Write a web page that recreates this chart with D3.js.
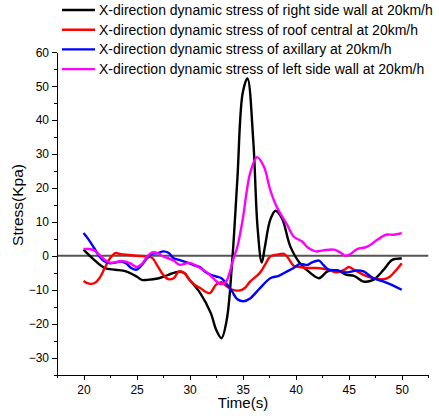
<!DOCTYPE html>
<html lang="en">
<head>
    <meta charset="UTF-8">
    <title>X-direction dynamic stress at 20km/h</title>
    <script src="https://cdn.jsdelivr.net/npm/d3@7"></script>
    <style>
        body { margin: 0; background: #fff; }
        svg { font-family: "Liberation Sans", Arial, sans-serif; }
        .axis path, .axis line { stroke: #000; stroke-width: 1px; shape-rendering: crispEdges; }
        .axis text { font-size: 12px; fill: #000; }
        .series { fill: none; stroke-width: 2.4px; stroke-linejoin: round; }
    </style>
</head>
<body>
    <svg id="chart" width="439" height="419"></svg>

    <script>
        // series names and colours
        const seriesNames = [
            "X-direction dynamic stress of right side wall at 20km/h",
            "X-direction dynamic stress of roof central at 20km/h",
            "X-direction dynamic stress of axillary at 20km/h",
            "X-direction dynamic stress of left side wall at 20km/h"
        ];
        const seriesColors = ["#000000", "#ff0000", "#0000ff", "#ff00ff"];

        // right side wall (black)
        const rightTime = [20, 21, 22, 23, 24, 25, 25.5, 26, 27, 28, 29, 29.5, 30, 31, 32, 32.5, 33, 33.5, 34, 34.5, 35, 35.45, 36, 36.4, 36.8, 37.1, 37.6, 38.1, 38.7, 39.5, 40.4, 41.4, 42.2, 43, 43.9, 44.8, 45.5, 46.4, 47.3, 48.3, 49.1, 50];
        const rightStress = [1.8, -1.2, -3.6, -4.1, -4.6, -6.1, -7.1, -7.1, -6.7, -5.6, -4.7, -5.1, -7.1, -11, -16.9, -21.8, -24.3, -18.9, -2.2, 22.5, 47.9, 52.3, 34, 8.6, -2, 2.7, 10.6, 13.3, 11.1, 2.7, -2.2, -5.1, -6.6, -4.6, -4.3, -5.6, -5.9, -7.6, -7.1, -4.1, -1.2, -0.8];

        // roof central (red)
        const roofTime = [20, 20.5, 21, 21.5, 22, 22.5, 23, 23.5, 24, 25, 26, 26.5, 27, 27.5, 28, 28.5, 29, 29.5, 30, 30.5, 31, 31.5, 31.9, 32.5, 33, 33.5, 34, 34.75, 35.2, 35.7, 36.6, 37.1, 37.6, 38.2, 38.9, 39.3, 39.8, 40.4, 41.1, 42, 43, 43.9, 44.6, 45, 45.5, 46.4, 47.3, 48.3, 48.9, 49.5, 50];
        const roofStress = [-7.4, -8.2, -8.1, -6.6, -3.6, -0.7, 0.8, 0.5, 0.3, 0, -0.2, -0.7, -3.1, -5.6, -6.9, -6.6, -4.6, -5.1, -7.1, -8.6, -9.5, -10.6, -11, -8.5, -7.8, -9, -10, -10.2, -9.5, -7.6, -5.1, -2.7, -0.2, 0.3, 0.6, -0.7, -2.9, -3.3, -3.6, -3.6, -4.1, -4.9, -4.1, -3.3, -4.1, -5.6, -6.6, -6.9, -6.1, -4.1, -2.2];

        // axillary (blue)
        const axillaryTime = [20, 20.5, 21, 21.5, 22, 22.5, 23, 23.5, 24, 24.5, 25, 25.5, 26, 26.5, 27, 27.5, 28, 28.5, 29, 29.5, 30, 30.5, 31, 31.5, 32, 32.5, 33, 33.5, 34, 34.5, 35.1, 35.7, 36.35, 36.8, 37.6, 38.4, 39.2, 39.8, 40.4, 41.1, 41.5, 42.2, 42.6, 43.1, 43.9, 44.8, 45.8, 46.4, 47.3, 48.3, 49.2, 50];
        const axillaryStress = [6.7, 4.7, 2.3, -0.2, -1.7, -2.2, -2, -1.7, -2.2, -3.6, -4.1, -2.7, -0.7, 0.6, 0.8, 1.3, 0.9, -0.7, -1.2, -1.7, -2.2, -2.9, -3.4, -4.8, -5.6, -6.1, -6.6, -8.3, -10.5, -12.8, -13.4, -12.6, -10.5, -9, -6.6, -5.9, -4.6, -3.6, -2.4, -2.7, -2, -1.4, -2.7, -4.1, -4.3, -4.9, -4.3, -4.6, -6.6, -7.6, -8.8, -10];

        // left side wall (magenta)
        const leftTime = [20, 20.5, 21, 21.5, 22, 22.5, 23, 23.5, 24, 24.5, 25, 25.5, 26, 26.5, 27, 27.5, 28, 28.5, 29, 29.5, 30, 30.5, 31, 31.5, 32, 32.5, 32.9, 33.4, 33.8, 34.15, 34.5, 35, 35.7, 36.35, 37, 37.6, 38.2, 39.2, 39.8, 40.6, 41.2, 41.9, 42.6, 43.6, 44.2, 44.7, 45.2, 45.8, 46.7, 47.7, 48.5, 49.2, 50];
        const leftStress = [2, 2, 1.6, 0.3, -1.2, -2, -1.9, -1.6, -1.7, -2.4, -3.3, -2.4, -0.2, 1, 0.8, -0.2, -0.7, -1.4, -2.6, -2.4, -2.1, -2.7, -3.6, -4.6, -5.9, -7.5, -8.3, -7.8, -4.7, -0.7, 2.6, 10.6, 24.3, 29.1, 26.3, 19.4, 14.5, 9.1, 5.7, 4.2, 2.3, 1.3, 1.6, 1.8, 1, 0, 0.6, 2, 2.6, 4.7, 6.2, 6.2, 6.7];

        const timeSeries = [rightTime, roofTime, axillaryTime, leftTime];
        const stressSeries = [rightStress, roofStress, axillaryStress, leftStress];

        // ticks
        const xMajorTicks = [20, 25, 30, 35, 40, 45, 50];
        const xMinorTicks = [17.5, 22.5, 27.5, 32.5, 37.5, 42.5, 47.5, 52.5];
        const yMajorTicks = [-30, -20, -10, 0, 10, 20, 30, 40, 50, 60];
        const yMinorTicks = [-35, -25, -15, -5, 5, 15, 25, 35, 45, 55];

        const svg = d3.select("#chart");

        const x = d3.scaleLinear().domain([17.5, 52.5]).range([57, 428.3]);
        const y = d3.scaleLinear().domain([-35, 60]).range([374.5, 52.3]);

        // zero line
        svg.append("line")
            .attr("x1", x(17.5)).attr("x2", x(52.5))
            .attr("y1", y(0)).attr("y2", y(0))
            .attr("stroke", "#555")
            .attr("stroke-width", 2);

        // x axis
        svg.append("g")
            .attr("class", "axis")
            .attr("transform", `translate(0,${y(-35)})`)
            .call(d3.axisBottom(x).tickValues(xMajorTicks).tickSize(5).tickSizeOuter(0).tickPadding(6));
        svg.append("g")
            .attr("class", "axis")
            .attr("transform", `translate(0,${y(-35)})`)
            .call(d3.axisBottom(x).tickValues(xMinorTicks).tickSize(3).tickFormat(""))
            .select(".domain").remove();

        // y axis
        svg.append("g")
            .attr("class", "axis")
            .attr("transform", `translate(${x(17.5)},0)`)
            .call(d3.axisLeft(y).tickValues(yMajorTicks).tickSize(5).tickSizeOuter(0).tickPadding(3));
        svg.append("g")
            .attr("class", "axis")
            .attr("transform", `translate(${x(17.5)},0)`)
            .call(d3.axisLeft(y).tickValues(yMinorTicks).tickSize(3).tickFormat(""))
            .select(".domain").remove();

        // axis titles
        svg.append("text")
            .attr("x", 243)
            .attr("y", 408)
            .attr("text-anchor", "middle")
            .attr("font-size", 15)
            .text("Time(s)");

        svg.append("text")
            .attr("transform", "translate(23,205) rotate(-90)")
            .attr("text-anchor", "middle")
            .attr("font-size", 15.5)
            .text("Stress(Kpa)");

        // curves
        const line = d3.line()
            .x(d => x(d[0]))
            .y(d => y(d[1]))
            .curve(d3.curveCatmullRom.alpha(0.5));

        stressSeries.forEach((vals, i) => {
            const pts = vals.map((v, j) => [timeSeries[i][j], v]);
            svg.append("path")
                .attr("class", "series")
                .attr("stroke", seriesColors[i])
                .attr("d", line(pts));
        });

        // legend
        const legend = svg.append("g");
        seriesNames.forEach((name, i) => {
            const ly = 10 + i * 19.7;
            legend.append("line")
                .attr("x1", 62).attr("x2", 95)
                .attr("y1", ly).attr("y2", ly)
                .attr("stroke", seriesColors[i])
                .attr("stroke-width", 2.4);
            legend.append("text")
                .attr("x", 99)
                .attr("y", ly)
                .attr("dy", "0.35em")
                .attr("font-size", 14)
                .text(name);
        });
    </script>
</body>
</html>
